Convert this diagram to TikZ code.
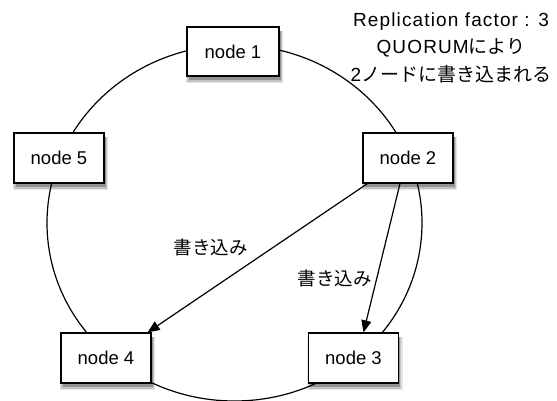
\documentclass[tikz,border=0pt]{standalone}
\usepackage{fontspec}
\setmainfont{Liberation Sans}
\newfontfamily\jp{Noto Sans CJK JP}
\newfontfamily\widesans[LetterSpace=6]{Liberation Sans}
\usetikzlibrary{shadows,arrows.meta}
\begin{document}
\begin{tikzpicture}[x=1pt,y=-1pt,
  box/.style={draw=black, line width=1.3pt, fill=white, minimum width=90pt, minimum height=50pt,
    inner sep=0pt, font=\fontsize{18.5}{22}\selectfont,
    drop shadow={shadow xshift=1.5pt, shadow yshift=-5.5pt, opacity=0.10, fill=black, shadow scale=1.06},
    drop shadow={shadow xshift=1.5pt, shadow yshift=-5pt, opacity=0.15, fill=black, shadow scale=1.03},
    drop shadow={shadow xshift=1.5pt, shadow yshift=-4pt, opacity=0.25, fill=black}},
  ring/.style={line width=1.2pt},
  wr/.style={-{Triangle[length=12pt,width=10pt]}, line width=1.2pt},
  lbl/.style={font=\jp\fontsize{18.5}{22}\selectfont, inner sep=0pt}]
\useasboundingbox (0,0) rectangle (557,401);
\draw[ring] (234.5,223) ellipse [x radius=187.5, y radius=178];
\node[box, minimum width=92pt, minimum height=49pt] (n1) at (233,51.5) {node 1};
\node[box] (n2) at (408,158) {node 2};
\node[box] (n3) at (353.5,358) {node 3};
\node[box] (n4) at (106,358) {node 4};
\node[box] (n5) at (59,158) {node 5};
\draw[wr] ([xshift=5pt]n2.south west) -- ([xshift=-4pt]n4.north east);
\draw[wr] ([xshift=-8pt]n2.south) -- ([xshift=10pt]n3.north);
\node[lbl] (l1) at (210.5,247.5) {書き込み};
\node[lbl] (l2) at (334.5,278) {書き込み};
\node[align=center, inner sep=0pt, font=\fontsize{19}{27.5}\selectfont] (info) at (451,47.5)
  {{\widesans Replication factor : 3}\\{\widesans QUORUM}{\jp により}\\{\widesans 2}{\jp ノードに書き込まれる}};
\end{tikzpicture}
\end{document}
